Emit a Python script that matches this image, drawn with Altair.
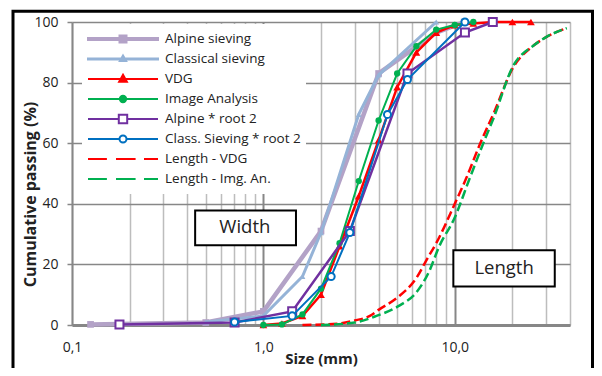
import altair as alt
import pandas as pd

FONT = "Open Sans"
TXT = "#222222"

series_names = ["Alpine sieving", "Classical sieving", "VDG", "Image Analysis",
                "Alpine * root 2", "Class. Sieving * root 2", "Length - VDG", "Length - Img. An."]

alpine_size = [0.125, 0.5, 1.0, 2.0, 4.0, 8.0, 11.2]
alpine_pass = [0.2, 0.8, 4.5, 31, 83, 96.5, 100]
classical_size = [0.5, 1.0, 1.6, 2.0, 3.15, 4.0, 8.0]
classical_pass = [1, 3, 16, 30.5, 69.5, 82.5, 100]
vdg_size = [1.0, 1.25, 1.6, 2.0, 2.5, 3.15, 4.0, 5.0, 6.3, 8.0, 10, 12.5, 16, 20, 25]
vdg_pass = [0, 0.5, 3, 10, 26, 42.5, 61, 78.5, 90, 96.5, 99, 99.5, 100, 100, 100]
ia_size = [1.0, 1.25, 1.6, 2.0, 2.5, 3.15, 4.0, 5.0, 6.3, 8.0, 10, 12.5]
ia_pass = [0, 0.2, 3.5, 12, 27, 47.5, 67.5, 83, 92, 97.5, 99, 100]
alpine_r2_size = [0.177, 0.707, 1.414, 2.83, 5.66, 11.3, 15.8]
alpine_r2_pass = [0.2, 0.8, 4.5, 31, 83, 96.5, 100]
class_r2_size = [0.707, 1.414, 2.26, 2.83, 4.45, 5.66, 11.3]
class_r2_pass = [1, 3, 16, 30.5, 69.5, 81, 100]
len_vdg_size = [1.6, 2.5, 3.0, 3.6, 4.0, 5.0, 6.3, 7.2, 8.0, 10, 11.4, 13.7, 16, 20, 26, 30, 38.5]
len_vdg_pass = [0, 0.5, 1.5, 3, 5, 9, 15.5, 22, 27, 40, 48, 60.5, 70, 84.5, 92.4, 95, 98]
len_ia_size = [2.0, 3.0, 3.9, 5.1, 6.3, 7.3, 8.3, 10, 11.9, 14.2, 16, 20, 26, 30, 38.5]
len_ia_pass = [0, 0.8, 3, 6.3, 10.8, 17.3, 26, 35.5, 48, 60.5, 68.5, 85, 92.4, 95, 98]

series_sizes = [alpine_size, classical_size, vdg_size, ia_size,
                alpine_r2_size, class_r2_size, len_vdg_size, len_ia_size]
series_pass = [alpine_pass, classical_pass, vdg_pass, ia_pass,
               alpine_r2_pass, class_r2_pass, len_vdg_pass, len_ia_pass]

colors = ["#b3a2c7", "#95b3d7", "#ff0000", "#00b050", "#7030a0", "#0070c0", "#ff0000", "#00b050"]
fills = ["#b3a2c7", "#95b3d7", "#ff0000", "#00b050", "white", "white", "#ff0000", "#00b050"]
line_widths = [4.5, 3, 2.5, 2, 2.5, 2, 2.5, 2.5]
marker_shapes = ["square", "triangle-up", "triangle-up", "circle", "square", "circle", "", ""]
marker_filled = [True, True, True, True, False, False, True, True]
marker_sizes = [45, 35, 60, 40, 64, 50, 0, 0]
dashed = [False, False, False, False, False, False, True, True]

legend_paths = [
    "M-1,-0.03H1V0.03H-1Z M-0.1,-0.1H0.1V0.1H-0.1Z",
    "M-1,-0.015H1V0.015H-1Z M0,-0.1L0.09,0.06H-0.09Z",
    "M-1,0H1 M0,-0.12L0.11,0.08H-0.11Z",
    "M-1,0H1 M0.09,0A0.09,0.09,0,1,1,-0.09,0A0.09,0.09,0,1,1,0.09,0Z",
    "M-1,0H-0.12M0.12,0H1 M-0.12,-0.12H0.12V0.12H-0.12Z",
    "M-1,0H-0.1M0.1,0H1 M0.1,0A0.1,0.1,0,1,1,-0.1,0A0.1,0.1,0,1,1,0.1,0Z",
    "M-1,0H-0.46M-0.2,0H0.36M0.6,0H1",
    "M-1,0H-0.46M-0.2,0H0.36M0.6,0H1",
]

ann_label = ["Width", "Length"]
ann_x = [0.80, 18.1]
ann_y = [32.2, 18.7]
ann_x0 = [0.44, 9.83]
ann_x1 = [1.48, 33.3]
ann_y0 = [26.3, 12.7]
ann_y1 = [37.8, 24.7]

x_values = [0.1, 0.2, 0.3, 0.4, 0.5, 0.6, 0.7, 0.8, 0.9, 1, 2, 3, 4, 5, 6, 7, 8, 9, 10, 20, 30, 40]
y_values = [0, 20, 40, 60, 80, 100]

major_test = "datum.value == 1 || datum.value == 10"
x_axis = alt.Axis(
    values=x_values,
    labelExpr="datum.value == 0.1 ? '0,1' : datum.value == 1 ? '1,0' : datum.value == 10 ? '10,0' : ''",
    grid=True,
    gridColor={"condition": {"test": major_test, "value": "#878787"}, "value": "#bdbdbd"},
    gridWidth={"condition": {"test": major_test, "value": 2}, "value": 1.5},
    ticks=False, tickSize=0,
    domainColor="#878787", domainWidth=3,
    labelFont=FONT, labelFontSize=14, labelColor=TXT, labelPadding=15,
    labelOverlap=False, labelFlush=False,
    title="Size (mm)", titleFont=FONT, titleFontSize=15, titleFontWeight="bold",
    titleColor=TXT, titleY=33, titleBaseline="middle",
)
y_axis = alt.Axis(
    values=y_values, grid=True, gridColor="#878787", gridWidth=1.5,
    domainColor="#878787", domainWidth=2, tickColor="#878787", tickSize=5, tickWidth=1.5,
    labelFont=FONT, labelFontSize=14, labelColor=TXT, labelPadding=9,
    title="Cumulative passing (%)", titleFont=FONT, titleFontSize=16, titleFontWeight="bold",
    titleColor=TXT, titleX=-42, titleY=172, titleBaseline="middle",
)
x_scale = alt.Scale(type="log", domain=[0.1, 40], nice=False)
y_scale = alt.Scale(domain=[0, 100], nice=False)

layers = []

frame = alt.Chart(pd.DataFrame({"a": [0]})).mark_rect(
    filled=False, color="black", strokeWidth=3, clip=False
).encode(x=alt.value(-59), x2=alt.value(520.5), y=alt.value(-10.7), y2=alt.value(360))
layers.append(frame)

ann_df = pd.DataFrame({"label": ann_label, "x": ann_x, "y": ann_y,
                       "x0": ann_x0, "x1": ann_x1, "y0": ann_y0, "y1": ann_y1})
boxes = alt.Chart(ann_df).mark_rect(fill="white", stroke="black", strokeWidth=2).encode(
    x=alt.X("x0:Q", scale=x_scale, axis=x_axis),
    x2="x1:Q",
    y=alt.Y("y0:Q", scale=y_scale, axis=y_axis),
    y2="y1:Q",
)
labels = alt.Chart(ann_df).mark_text(font=FONT, fontSize=18.5, color=TXT).encode(
    x=alt.X("x:Q", scale=x_scale), y=alt.Y("y:Q", scale=y_scale), text="label:N"
)
layers += [boxes, labels]

for i, name in enumerate(series_names):
    df = pd.DataFrame({"size": series_sizes[i], "passing": series_pass[i]})
    kw = dict(color=colors[i], strokeWidth=line_widths[i])
    if dashed[i]:
        kw["strokeDash"] = [9, 4]
        kw["interpolate"] = "monotone"
    if marker_shapes[i]:
        pkw = dict(shape=marker_shapes[i], filled=marker_filled[i], size=marker_sizes[i],
                   color=colors[i], opacity=1)
        if not marker_filled[i]:
            pkw["fill"] = "white"
            pkw["strokeWidth"] = 2
        kw["point"] = alt.OverlayMarkDef(**pkw)
    layers.append(
        alt.Chart(df).mark_line(**kw).encode(
            x=alt.X("size:Q", scale=x_scale), y=alt.Y("passing:Q", scale=y_scale)
        )
    )

leg_df = pd.DataFrame({"series": series_names,
                       "size": [s[0] for s in series_sizes],
                       "passing": [p[0] for p in series_pass]})
legend = alt.Legend(
    orient="none", legendX=10, legendY=2, padding=5, fillColor="white",
    clipHeight=20, rowPadding=0, symbolSize=4900, symbolStrokeWidth=2, symbolOpacity=1,
    symbolOffset=0, labelFont=FONT, labelFontSize=13.5, labelColor=TXT, labelOffset=6,
    labelLimit=300,
)
leg_layer = alt.Chart(leg_df).mark_point(opacity=0).encode(
    x=alt.X("size:Q", scale=x_scale),
    y=alt.Y("passing:Q", scale=y_scale),
    stroke=alt.Stroke("series:N", title=None,
                      scale=alt.Scale(domain=series_names, range=colors), legend=legend),
    fill=alt.Fill("series:N", title=None,
                  scale=alt.Scale(domain=series_names, range=fills), legend=legend),
    shape=alt.Shape("series:N", title=None,
                    scale=alt.Scale(domain=series_names, range=legend_paths), legend=legend),
)
layers.append(leg_layer)

chart = alt.layer(*layers).properties(
    width=498, height=303,
    padding={"left": 64, "top": 14, "right": 24, "bottom": 43},
    autosize=alt.AutoSizeParams(type="none"),
    background="white",
).configure_view(stroke="transparent")

chart.save("out.html", embed_options={"renderer": "svg", "actions": False})
